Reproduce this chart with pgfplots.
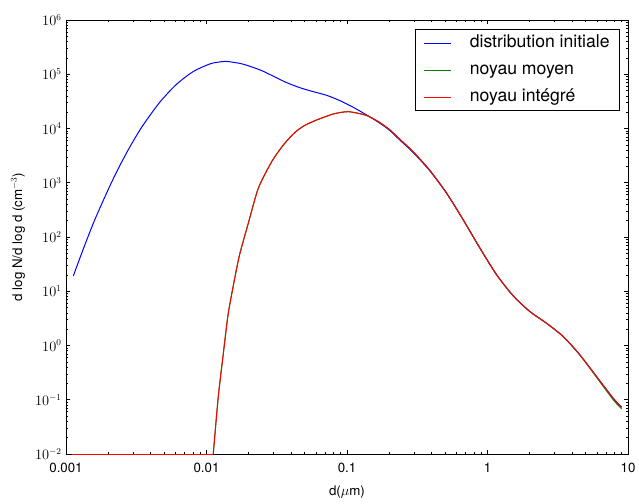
\documentclass[border=0pt]{standalone}
\usepackage{fontspec}
\setmainfont{TeX Gyre Heros}
\usepackage{pgfplots}
\pgfplotsset{compat=1.18}
\definecolor{mplblue}{rgb}{0,0,1}
\definecolor{mplgreen}{rgb}{0,0.5,0}
\definecolor{mplred}{rgb}{1,0,0}
\newcommand{\bigf}{\fontsize{13.3}{16}\selectfont}
\newcommand{\legf}{\fontsize{17.6}{21}\selectfont}
\pgfplotstableread{
x y
0.01117 0.01
0.01213 0.1138
0.01318 0.718
0.01429 3.93
0.01596 18.5
0.01730 50.1
0.01984 179
0.02337 790.7
0.02911 2443
0.03521 4966
0.04266 8511
0.05023 11482
0.06085 14355
0.07990 18493
0.1021 20417
0.1380 17378
0.1718 12794
0.2023 9397
0.2382 6310
0.2965 3715
0.3899 1679
0.5129 639.7
0.673 205.6
0.885 61.94
1.164 19.95
1.528 8.166
2.009 4.198
2.636 2.564
3.467 1.455
4.55 0.6683
5.984 0.2661
7.852 0.1064
9.016 0.0726
}\integre
\pgfplotstableread{
x y
0.01117 0.01
0.01213 0.1138
0.01318 0.718
0.01429 3.93
0.01596 18.5
0.01730 50.1
0.01984 179
0.02337 790.7
0.02911 2443
0.03521 4966
0.04266 8511
0.05023 11482
0.06085 14355
0.07990 18493
0.1021 20417
0.1380 17378
0.1718 12794
0.2023 9397
0.2382 6310
0.2965 3715
0.3899 1679
0.5129 639.7
0.673 205.6
0.885 61.94
1.164 19.95
1.528 8.166
2.009 4.198
2.636 2.564
3.467 1.455
4.55 0.6683
5.984 0.258
7.852 0.100
9.016 0.0676
}\moyen
\begin{document}
\begin{tikzpicture}
\path[use as bounding box] (-66pt,-49pt) rectangle (573pt,454pt);
\begin{axis}[
  at={(0pt,0pt)}, anchor=south west,
  scale only axis, width=562pt, height=434pt,
  xmode=log, ymode=log,
  xmin=0.001, xmax=10, ymin=1e-2, ymax=1e6,
  xtick={0.001,0.01,0.1,1,10},
  xticklabels={0.001,0.01,0.1,1,10},
  ytick={1e-2,1e-1,1,10,100,1000,1e4,1e5,1e6},
  tick align=inside,
  major tick length=4.4pt, minor tick length=2.2pt,
  every tick/.style={black, line width=0.6pt},
  axis line style={line width=0.9pt},
  tick label style={font=\bigf},
  xticklabel style={yshift=-6pt},
  yticklabel style={xshift=-1pt},
  xlabel={\bigf d($\mu$m)},
  ylabel={\bigf d log N/d log d (cm$^{-3}$)},
  every axis x label/.style={at={(axis description cs:0.5,-0.087)}, anchor=center},
  every axis y label/.style={at={(axis description cs:-0.0854,0.5)}, rotate=90, anchor=center},
  legend cell align=left,
  legend image code/.code={\draw[#1] (0pt,0pt) -- (27pt,0pt);},
  legend style={at={(0.9858,0.9793)}, anchor=north east,
    draw=black, line width=0.8pt,
    font=\legf,
    nodes={inner sep=2pt, text height=12.7pt, text depth=3.7pt},
    inner xsep=8pt, inner ysep=3.5pt,
    row sep=6.6pt,
    /tikz/every odd column/.style={column sep=16pt}},
]
\addplot[mplblue, line width=1pt, smooth, tension=0.5] coordinates {
(0.001127,19.1) (0.001318,57.1) (0.001563,177.8) (0.001795,405.5)
(0.002056,881) (0.002355,1816) (0.002704,3589) (0.003097,6637)
(0.003548,11670) (0.004667,30830) (0.006138,65610) (0.008054,112200)
(0.01059,155200) (0.01247,169000) (0.01393,172200) (0.01552,166000)
(0.01828,153100) (0.02404,120200)
(0.02985,92260) (0.03724,69980) (0.04624,56490)
(0.05754,47750) (0.07161,40930) (0.08913,32580) (0.1109,24550)
(0.1380,17740) (0.1718,12470) (0.2023,9120) (0.2382,6095)
(0.2965,3589) (0.3899,1641) (0.5129,631) (0.673,205.6)
(0.885,61.94) (1.164,19.95) (1.528,8.166) (2.009,4.198)
(2.636,2.564) (3.467,1.455) (4.55,0.6683) (5.984,0.2661)
(7.852,0.1064) (9.016,0.0726)
};
\addlegendentry{\legf distribution initiale}
\addplot[mplgreen, line width=1pt, forget plot] coordinates {
(0.0011,0.01) (0.01117,0.01)
};
\addplot[mplgreen, line width=1pt, smooth, tension=0.4] table {\moyen};
\addlegendentry{\legf noyau moyen}
\addplot[mplred, line width=1pt, forget plot] coordinates {
(0.0011,0.01) (0.01117,0.01)
};
\addplot[mplred, line width=1pt, smooth, tension=0.4] table {\integre};
\addlegendentry{\legf noyau intégré}
\end{axis}
\end{tikzpicture}
\end{document}
